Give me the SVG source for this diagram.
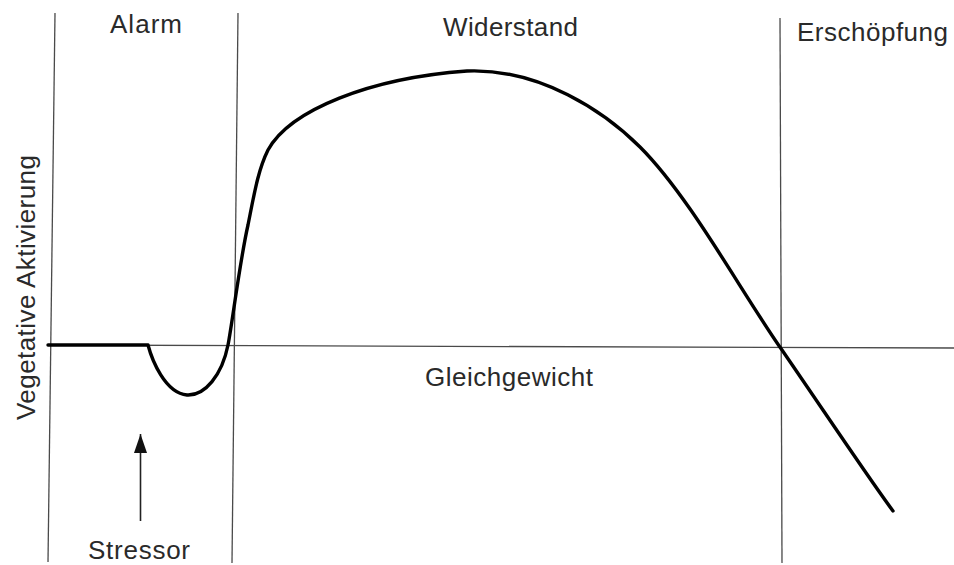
<svg xmlns="http://www.w3.org/2000/svg" width="954" height="565" viewBox="0 0 954 565">
  <style>
    .lbl { font-family: "Liberation Sans", Arial, sans-serif; font-size: 26px; fill: #2a2a2a; }
    .axis { stroke: #4a4a4a; stroke-width: 1.3; fill: none; }
    .curve { stroke: #000; stroke-width: 3.4; fill: none; stroke-linecap: round; stroke-linejoin: round; }
    .arrow { stroke: #222; stroke-width: 1.6; fill: none; }
  </style>
  <defs>
    <marker id="head" markerUnits="userSpaceOnUse" markerWidth="20" markerHeight="14" refX="19" refY="7" orient="auto" viewBox="0 0 20 14">
      <path d="M19,7 L0,0.5 L0,13.5 Z" fill="#111"/>
    </marker>
  </defs>
  <rect width="954" height="565" fill="#fff"/>
  <g id="axes">
    <line class="axis" x1="55" y1="13" x2="48" y2="562"/>
    <line class="axis" x1="238" y1="13" x2="232" y2="563"/>
    <line class="axis" x1="780" y1="18" x2="782" y2="563"/>
    <line class="axis" x1="48" y1="345" x2="954" y2="348"/>
  </g>
  <g id="connectors">
    <path id="curve" class="curve" d="M48,345 L148,345 C152,360 165,393 187,395 C205,396 222,375 228,345 C232,325 240,260 248,225 C254,195 258,170 268,150 C290,110 370,78 467,71 C540,68 605,112 640,147 C690,197 740,290 782,350 C830,420 870,480 893,511"/>
    <line id="stressor-arrow" class="arrow" x1="140.5" y1="521" x2="140.5" y2="434" marker-end="url(#head)"/>
  </g>
  <g id="label-alarm"><text class="lbl" x="110" y="33" textLength="72">Alarm</text></g>
  <g id="label-widerstand"><text class="lbl" x="443" y="36" textLength="135">Widerstand</text></g>
  <g id="label-erschoepfung"><text class="lbl" x="797" y="41" textLength="151">Erschöpfung</text></g>
  <g id="label-gleichgewicht"><text class="lbl" x="425" y="386" textLength="168">Gleichgewicht</text></g>
  <g id="label-stressor"><text class="lbl" x="88" y="559" textLength="102">Stressor</text></g>
  <g id="label-yaxis"><text class="lbl" transform="translate(35,420) rotate(-90)" x="0" y="0" textLength="265">Vegetative Aktivierung</text></g>
</svg>
